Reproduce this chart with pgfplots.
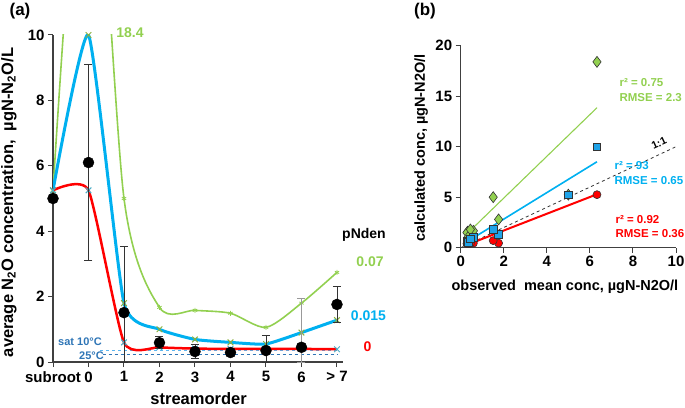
\documentclass[border=0pt]{standalone}
\usepackage{fontspec}
\setmainfont{Liberation Sans}
\usepackage{pgfplots}
\pgfplotsset{compat=1.18}
\definecolor{cgreen}{HTML}{92D050}
\definecolor{cblue}{HTML}{00B0F0}
\definecolor{cred}{HTML}{FF0000}
\definecolor{csat}{HTML}{2E75B6}
\definecolor{csatl}{HTML}{5BB5F0}
\definecolor{cmkb}{HTML}{4BACC6}
\definecolor{cmkg}{HTML}{8CB040}
\definecolor{cbsq}{HTML}{1FA3E8}
\begin{document}
\begin{tikzpicture}[x=1pt,y=1pt]
\path[use as bounding box] (0,0) rectangle (685,407);
\node[font=\bfseries\fontsize{17}{20}\selectfont] at (20,396) {(a)};
\node[font=\bfseries\fontsize{17}{20}\selectfont] at (425,396) {(b)};
% ---------------- panel (a)
\begin{axis}[
  at={(53pt,45pt)}, anchor=south west,
  scale only axis, width=290pt, height=327pt,
  xmin=0, xmax=8.17, ymin=0, ymax=10,
  axis x line*=bottom, axis y line*=left,
  axis line style={line width=1.1pt, black!75},
  xtick={0,...,8}, xticklabels={subroot,0,1,2,3,4,5,6,> 7},
  ytick={0,2,...,10},
  tick align=outside, major tick length=5pt,
  tick style={line width=1pt, black!75},
  /pgf/number format/assume math mode=true,
  ticklabel style={font=\bfseries\fontsize{15}{18}\selectfont},
  xticklabel style={yshift=-1pt},
  xlabel={streamorder},
  ylabel={average N\textsubscript{2}O concentration,\ \ µgN-N\textsubscript{2}O/L},
  label style={font=\bfseries\fontsize{16.5}{19}\selectfont},
  xlabel style={at={(axis description cs:0.502,-0.113)}, anchor=center},
  ylabel style={at={(axis description cs:-0.152,0.488)}, anchor=center},
  clip mode=individual,
]
% saturation lines
\addplot[csatl, dashed, line width=0.8pt] coordinates {(1.33,0.35) (8,0.35)};
\addplot[csat, dashed, line width=0.8pt] coordinates {(1.40,0.22) (8,0.22)};
% green pNden=0.07
\addplot[cgreen, line width=1.6pt, smooth, tension=0.45, mark=asterisk, mark size=2.5pt, mark options={cgreen, line width=0.8pt}]
 coordinates {(0,5.25) (1,18.4) (2,5.0) (3,1.67) (4,1.58) (5,1.49) (6,1.06) (7,1.8) (8,2.74)};
% blue pNden=0.015
\addplot[cblue, line width=3pt, smooth, tension=0.3, mark=x, mark size=4pt, mark options={cmkg, line width=1pt}]
 coordinates {(0,5.25) (1,10) (2,1.8) (3,1.0) (4,0.69) (5,0.6) (6,0.55) (7,0.9) (8,1.28)};
% red pNden=0
\addplot[cred, line width=2.5pt, smooth, tension=0.33, mark=x, mark size=4pt, mark options={cmkb, line width=1pt}]
 coordinates {(0,5.25) (1,5.25) (2,0.6) (3,0.45) (4,0.41) (5,0.4) (6,0.4) (7,0.4) (8,0.39)};
% observed gray error bar at 6
\addplot[only marks, mark=none, black!40,
  error bars/.cd, y dir=both, y explicit,
  error bar style={line width=1.2pt, black!40},
  error mark options={rotate=90, mark size=4pt, line width=1pt, black!40}]
 coordinates {(7,0.45) += (0,1.5) -= (0,0.45)};
% observed
\addplot[only marks, mark=*, mark size=5.5pt, black,
  error bars/.cd, y dir=both, y explicit,
  error bar style={line width=0.7pt, black!80},
  error mark options={rotate=90, mark size=4pt, line width=0.7pt, black!80}]
 coordinates {(0,5.0) (1,6.1) +- (0,3.0) (2,1.51) += (0,2.02) -= (0,1.51)
   (3,0.59) +- (0,0.18) (4,0.32) +- (0,0.22) (5,0.29) +- (0,0.1)
   (6,0.35) += (0,0.48) -= (0,0.35) (7,0.45) (8,1.76) +- (0,0.55)};
\end{axis}
\node[csat, font=\bfseries\fontsize{11}{13}\selectfont] at (80,65) {sat 10°C};
\node[csat, font=\bfseries\fontsize{11}{13}\selectfont] at (91.5,51) {25°C};
\node[cgreen, font=\bfseries\fontsize{14}{17}\selectfont] at (130,374) {18.4};
\node[black, font=\bfseries\fontsize{14}{17}\selectfont] at (364,172) {pNden};
\node[cgreen, font=\bfseries\fontsize{14}{17}\selectfont] at (370,145) {0.07};
\node[cblue, font=\bfseries\fontsize{14}{17}\selectfont] at (368.5,91) {0.015};
\node[cred, font=\bfseries\fontsize{14}{17}\selectfont] at (367.5,60) {0};
% ---------------- panel (b)
\begin{axis}[
  at={(460.7pt,159.3pt)}, anchor=south west,
  scale only axis, width=215.3pt, height=202pt,
  xmin=0, xmax=10, ymin=0, ymax=20,
  axis x line*=bottom, axis y line*=left,
  axis line style={line width=1.1pt, black!75},
  xtick={0,2,...,10}, ytick={0,5,...,20},
  tick align=outside, major tick length=5pt,
  tick style={line width=1pt, black!75},
  /pgf/number format/assume math mode=true,
  ticklabel style={font=\bfseries\fontsize{15}{18}\selectfont},
  xlabel={observed\ \ mean conc, µgN-N2O/l},
  ylabel={calculated conc, µgN-N2O/l},
  label style={font=\bfseries\fontsize{14.5}{17}\selectfont},
  xlabel style={at={(axis description cs:0.484,-0.195)}, anchor=center},
  ylabel style={at={(axis description cs:-0.184,0.494)}, anchor=center},
  clip mode=individual,
]
\addplot[black!80, dashed, line width=0.8pt] coordinates {(0,0) (10,10)};
\addplot[cgreen, line width=1.1pt] coordinates {(0.3,1.4) (6.33,13.86)};
\addplot[cblue, line width=1.6pt] coordinates {(0.3,0.6) (6.33,8.51)};
\addplot[cred, line width=2pt] coordinates {(0.25,0.25) (6.33,5.29)};
\addplot[only marks, mark=*, mark size=4pt, mark options={fill=cred, draw=black!80, line width=0.6pt}]
 coordinates {(0.59,0.45) (0.32,0.4) (0.29,0.4) (0.35,0.4) (0.45,0.4) (1.76,0.45) (1.51,0.7) (5.0,5.25) (6.33,5.25)};
\addplot[only marks, mark=diamond*, mark size=5.5pt, mark options={fill=cgreen, draw=black!80, line width=0.6pt}]
 coordinates {(0.59,1.67) (0.32,1.58) (0.29,1.49) (0.35,1.06) (0.45,1.8) (5.0,5.25) (1.51,5.0) (1.76,2.8) (6.33,18.4)};
\addplot[only marks, mark=square*, mark size=3.8pt, mark options={fill=cbsq, draw=black!80, line width=0.6pt}]
 coordinates {(0.59,1.0) (0.32,0.69) (0.29,0.57) (0.35,0.55) (0.45,0.9) (1.76,1.35) (1.51,1.85) (5.0,5.25) (6.33,10)};
\end{axis}
\node[black, font=\bfseries\fontsize{10.5}{12}\selectfont, rotate=25, inner sep=1pt] at (659,264) {1:1};
\node[cgreen, font=\bfseries\fontsize{11.5}{13}\selectfont, anchor=west] at (616,324) {r² = 0.75};
\node[cgreen, font=\bfseries\fontsize{11.5}{13}\selectfont, anchor=west] at (616,309.5) {RMSE = 2.3};
\node[cblue, font=\bfseries\fontsize{11.5}{13}\selectfont, anchor=west] at (611,241) {r² = 93};
\node[cblue, font=\bfseries\fontsize{11.5}{13}\selectfont, anchor=west] at (611,226.5) {RMSE = 0.65};
\node[cred, font=\bfseries\fontsize{11.5}{13}\selectfont, anchor=west] at (612,187.5) {r² = 0.92};
\node[cred, font=\bfseries\fontsize{11.5}{13}\selectfont, anchor=west] at (612,173.5) {RMSE = 0.36};
\end{tikzpicture}
\end{document}
